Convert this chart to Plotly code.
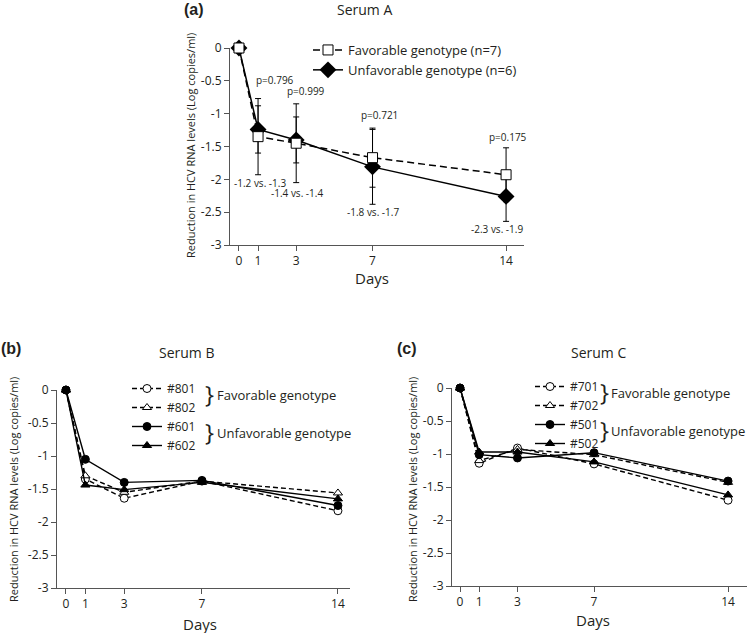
import plotly.graph_objects as go

W, H = 749, 633

# ---------------- data ----------------
days = [0, 1, 3, 7, 14]
day_ticktext = ['0', '1', '3', '7', '14']
y_tickvals = [0, -0.5, -1, -1.5, -2, -2.5, -3]
y_ticktext = ['0', '-0.5', '-1', '-1.5', '-2', '-2.5', '-3']

# Panel (a) Serum A
fav_a = [0, -1.35, -1.45, -1.67, -1.93]
fav_a_err = [0, 0.58, 0.60, 0.45, 0.41]
unfav_a = [0, -1.24, -1.40, -1.81, -2.26]
unfav_a_err = [0, 0.36, 0.35, 0.57, 0.38]
p_labels = ['p=0.796', 'p=0.999', 'p=0.721', 'p=0.175']
vs_labels = ['-1.2 vs. -1.3', '-1.4 vs. -1.4', '-1.8 vs. -1.7', '-2.3 vs. -1.9']

# Panel (b) Serum B
b_801 = [0, -1.35, -1.64, -1.38, -1.83]
b_802 = [0, -1.30, -1.55, -1.38, -1.56]
b_601 = [0, -1.05, -1.40, -1.37, -1.75]
b_602 = [0, -1.44, -1.51, -1.40, -1.65]

# Panel (c) Serum C
c_701 = [0, -1.14, -0.91, -1.15, -1.70]
c_702 = [0, -1.10, -0.93, -1.01, -1.43]
c_501 = [0, -1.01, -1.06, -0.98, -1.41]
c_502 = [0, -0.97, -0.97, -1.12, -1.62]

# ---------------- helpers ----------------
FONT = 'Open Sans'
INK = '#231f20'
AX = '#555555'


def px(x):
    return x / W


def py(y):
    return 1 - y / H


fig = go.Figure()

# ---- panel a traces ----
fig.add_trace(go.Scatter(
    x=days, y=unfav_a, name='Unfavorable genotype (n=6)', mode='lines+markers',
    line=dict(color='black', width=1.5),
    marker=dict(symbol='diamond', size=13, color='black'),
    error_y=dict(type='data', array=unfav_a_err, color='black', thickness=1, width=3),
    xaxis='x', yaxis='y', legend='legend', legendrank=2, cliponaxis=False))
fig.add_trace(go.Scatter(
    x=days, y=fav_a, name='Favorable genotype (n=7)', mode='lines+markers',
    line=dict(color='black', width=1.5, dash='7px,4px'),
    marker=dict(symbol='square', size=10, color='white', line=dict(color='black', width=1)),
    error_y=dict(type='data', array=fav_a_err, color='black', thickness=1, width=3),
    xaxis='x', yaxis='y', legend='legend', legendrank=1, cliponaxis=False))

# ---- panel b traces ----
for name, vals, sym, dash, grp, rank in [
        ('#801', b_801, 'circle', '5px,3px', 'fav', 1),
        ('#802', b_802, 'triangle-up', '5px,3px', 'fav', 2),
        ('#601', b_601, 'circle', 'solid', 'unfav', 3),
        ('#602', b_602, 'triangle-up', 'solid', 'unfav', 4)]:
    filled = dash == 'solid'
    fig.add_trace(go.Scatter(
        x=days, y=vals, name=name, mode='lines+markers',
        line=dict(color='black', width=1.4, dash=dash),
        marker=dict(symbol=sym, size=8, color='black' if filled else 'white',
                    line=dict(color='black', width=1)),
        xaxis='x2', yaxis='y2', legend='legend2', legendgroup=grp, legendrank=rank,
        cliponaxis=False))

# ---- panel c traces ----
for name, vals, sym, dash, grp, rank in [
        ('#701', c_701, 'circle', '5px,3px', 'fav', 1),
        ('#702', c_702, 'triangle-up', '5px,3px', 'fav', 2),
        ('#501', c_501, 'circle', 'solid', 'unfav', 3),
        ('#502', c_502, 'triangle-up', 'solid', 'unfav', 4)]:
    filled = dash == 'solid'
    fig.add_trace(go.Scatter(
        x=days, y=vals, name=name, mode='lines+markers',
        line=dict(color='black', width=1.4, dash=dash),
        marker=dict(symbol=sym, size=8, color='black' if filled else 'white',
                    line=dict(color='black', width=1)),
        xaxis='x3', yaxis='y3', legend='legend3', legendgroup=grp, legendrank=rank,
        cliponaxis=False))

# ---------------- axes ----------------
common_x = dict(showline=True, linecolor=AX, linewidth=1, ticks='outside', ticklen=5,
                tickcolor=AX, showgrid=False, zeroline=False, tickmode='array',
                tickvals=days, ticktext=day_ticktext, automargin=False,
                tickfont=dict(family=FONT, size=12, color=INK))
common_y = dict(showline=True, linecolor=AX, linewidth=1, ticks='outside', ticklen=5,
                tickcolor=AX, showgrid=False, zeroline=False, tickmode='array',
                tickvals=y_tickvals, ticktext=y_ticktext, range=[-3, 0], automargin=False,
                tickfont=dict(family=FONT, size=12, color=INK))

layout = dict(
    width=W, height=H, margin=dict(l=0, r=0, t=0, b=0, autoexpand=False),
    paper_bgcolor='white', plot_bgcolor='white',
    font=dict(family=FONT, color=INK),
    xaxis=dict(common_x, domain=[px(230), px(524)], range=[-0.47, 14.94], anchor='y'),
    yaxis=dict(common_y, domain=[py(245), py(48)], anchor='x'),
    xaxis2=dict(common_x, domain=[px(57), px(350)], range=[-0.46, 14.62], anchor='y2'),
    yaxis2=dict(common_y, domain=[py(588), py(390)], anchor='x2'),
    xaxis3=dict(common_x, domain=[px(452), px(747)], range=[-0.42, 14.99], anchor='y3'),
    yaxis3=dict(common_y, domain=[py(586), py(388)], anchor='x3'),
    legend=dict(x=px(308), y=py(35), xanchor='left', yanchor='top',
                bgcolor='rgba(0,0,0,0)', font=dict(family=FONT, size=13, color=INK),
                tracegroupgap=0, traceorder='normal'),
    legend2=dict(x=px(127), y=py(374), xanchor='left', yanchor='top',
                 bgcolor='rgba(0,0,0,0)', font=dict(family=FONT, size=12, color=INK),
                 tracegroupgap=0, traceorder='grouped'),
    legend3=dict(x=px(530), y=py(372), xanchor='left', yanchor='top',
                 bgcolor='rgba(0,0,0,0)', font=dict(family=FONT, size=12, color=INK),
                 tracegroupgap=0, traceorder='grouped'),
)
fig.update_layout(**layout)

# ---------------- annotations ----------------
ann = []


def text(x, y, s, size=12, bold=False, angle=0, xanchor='center', family=FONT):
    ann.append(dict(x=px(x), y=py(y), xref='paper', yref='paper', text=(f'<b>{s}</b>' if bold else s),
                    showarrow=False, xanchor=xanchor, yanchor='middle', textangle=angle,
                    font=dict(family=family, size=size, color=INK)))


# panel labels and titles
text(194, 10, '(a)', size=16, bold=True, family='Liberation Sans')
text(364, 10, 'Serum A', size=14)
text(11, 348, '(b)', size=16, bold=True, family='Liberation Sans')
text(187, 352, 'Serum B', size=14)
text(407, 348, '(c)', size=16, bold=True, family='Liberation Sans')
text(598, 352, 'Serum C', size=14)

ytitle = 'Reduction in HCV RNA levels (Log copies/ml)'
text(190, 146, ytitle, size=11, angle=-90)
text(13, 490, ytitle, size=11, angle=-90)
text(412, 490, ytitle, size=11, angle=-90)

text(372, 278, 'Days', size=15)
text(200, 624, 'Days', size=15)
text(593, 620, 'Days', size=15)

# p-values above upper error bars, mean labels below lower error bars (panel a)
p_xshift = [17, 10, 7, 2]
p_yshift = [19, 13, 13, 11]
vs_xshift = [2, 1, 0, -9]
vs_yshift = [-8, -10, -8, -8]
for i, d in enumerate(days[1:]):
    k = i + 1
    top = max(fav_a[k] + fav_a_err[k], unfav_a[k] + unfav_a_err[k])
    bot = min(fav_a[k] - fav_a_err[k], unfav_a[k] - unfav_a_err[k])
    ann.append(dict(x=d, y=top, xref='x', yref='y', text=p_labels[i], showarrow=False,
                    xanchor='center', yanchor='middle', yshift=p_yshift[i], xshift=p_xshift[i],
                    font=dict(family=FONT, size=10, color=INK)))
    ann.append(dict(x=d, y=bot, xref='x', yref='y', text=vs_labels[i], showarrow=False,
                    xanchor='center', yanchor='middle', yshift=vs_yshift[i], xshift=vs_xshift[i],
                    font=dict(family=FONT, size=10, color=INK)))

# group braces for legends b and c
text(203, 393, '}', size=24, xanchor='left')
text(215, 395, 'Favorable genotype', size=13, xanchor='left')
text(203, 431, '}', size=24, xanchor='left')
text(215, 433, 'Unfavorable genotype', size=13, xanchor='left')

text(598, 391, '}', size=24, xanchor='left')
text(609, 393, 'Favorable genotype', size=13, xanchor='left')
text(598, 429, '}', size=24, xanchor='left')
text(609, 431, 'Unfavorable genotype', size=13, xanchor='left')

fig.update_layout(annotations=ann)

fig.write_html('out.html', config={'displayModeBar': False},
               post_script="document.body.style.margin='0';document.body.style.overflow='hidden';")
